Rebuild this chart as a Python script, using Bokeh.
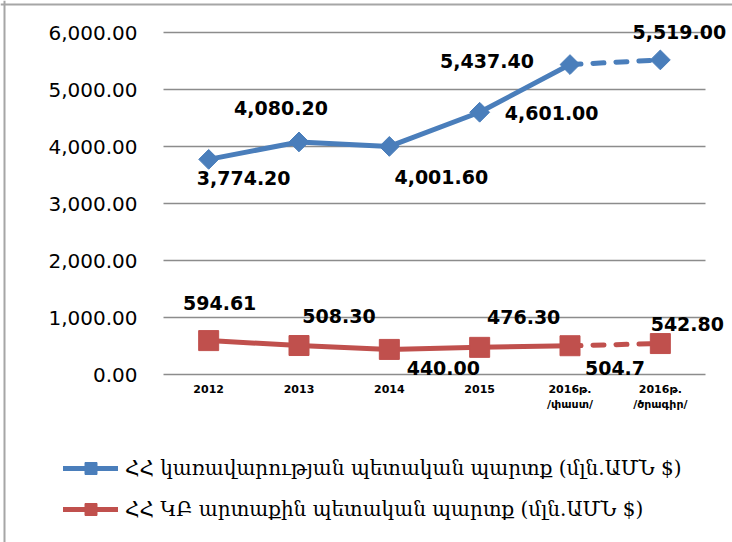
import math
from bokeh.plotting import figure
from bokeh.models import (Range1d, NumeralTickFormatter, Legend, LegendItem,
                          ColumnDataSource, FixedTicker, Span)
from bokeh.core.properties import value
from bokeh.embed import file_html
from bokeh.resources import INLINE

# ---------------- data ----------------
categories = ["2012", "2013", "2014", "2015", "2016թ.\n/փաստ/", "2016թ.\n/ծրագիր/"]
gov_debt = [3774.20, 4080.20, 4001.60, 4601.00, 5437.40, 5519.00]
cb_debt = [594.61, 508.30, 440.00, 476.30, 504.7, 542.80]
gov_labels = ["3,774.20", "4,080.20", "4,001.60", "4,601.00", "5,437.40", "5,519.00"]
cb_labels = ["594.61", "508.30", "440.00", "476.30", "504.7", "542.80"]
y_ticks = [0, 1000, 2000, 3000, 4000, 5000, 6000]
gov_name = "ՀՀ կառավարության պետական պարտք (մլն.ԱՄՆ $)"
cb_name = "ՀՀ ԿԲ արտաքին պետական պարտք (մլն.ԱՄՆ $)"

# ---------------- styles ----------------
BLUE = "#4a7ebb"
RED = "#c0504d"
GRID = "#8c8c8c"
BORDER = "#a6a6a6"
DASH = "11 12"
gov_dx = [35, -18, 52, 72, -83, 19]
gov_dy = [19, -34, 31, 1, -4, -28]
cb_dx = [11, 40, 54, 44, 45, 27]
cb_dy = [-38, -30, 19, -30, 22, -20]

# ---------------- geometry (px) ----------------
W, H = 732, 542                 # whole canvas = plot frame
area_left, area_top = 163, 32   # where the category area / top gridline sit
plot_w, plot_h = 542, 342       # size of the gridded area
border_inset = 4

n = len(categories)
idx = list(range(n))
y_max = y_ticks[-1]
cat_px = plot_w / n
ppu = plot_h / y_max
x0 = -0.5 - area_left / cat_px
y_top = y_max + area_top / ppu
y_bot = y_top - H / ppu

p = figure(x_range=Range1d(x0, x0 + W / cat_px),
           y_range=Range1d(y_bot, y_top),
           frame_width=W, frame_height=H, min_border=0,
           output_backend="svg", toolbar_location=None)
p.outline_line_color = None
p.background_fill_color = "white"
p.border_fill_color = "white"
p.xgrid.grid_line_color = None
p.ygrid.grid_line_color = None

# chart-area border (left and top edges visible in the reference)
p.add_layout(Span(location=border_inset, location_units="screen", dimension="height",
                  line_color=BORDER, line_width=2))
p.add_layout(Span(location=H - border_inset, location_units="screen", dimension="width",
                  line_color=BORDER, line_width=2))

# horizontal gridlines limited to the category area
p.segment(x0=[-0.5] * len(y_ticks), x1=[n - 0.5] * len(y_ticks), y0=y_ticks, y1=y_ticks,
          line_color=GRID, line_width=1.5)

# axes (labels drawn inward so the frame can cover the whole canvas)
p.yaxis.ticker = FixedTicker(ticks=y_ticks)
p.yaxis.formatter = NumeralTickFormatter(format="0,0.00")
p.yaxis.axis_line_color = None
p.yaxis.major_tick_line_color = None
p.yaxis.minor_tick_line_color = None
p.yaxis.major_tick_out = 0
p.yaxis.major_label_standoff = -137
p.yaxis.major_label_text_font = "DejaVu Sans"
p.yaxis.major_label_text_font_size = "20px"
p.yaxis.major_label_text_color = "black"

p.xaxis.ticker = FixedTicker(ticks=idx)
p.xaxis.major_label_overrides = {i: c for i, c in zip(idx, categories)}
p.xaxis.axis_line_color = None
p.xaxis.major_tick_line_color = None
p.xaxis.minor_tick_line_color = None
p.xaxis.major_tick_out = 0
p.xaxis.major_label_standoff = -(H - (area_top + plot_h) - 8)
p.xaxis.major_label_text_font = "DejaVu Sans"
p.xaxis.major_label_text_font_style = "bold"
p.xaxis.major_label_text_font_size = "11px"
p.xaxis.major_label_text_color = "black"

# series
solid_n = 5
g_l = p.line(idx[:solid_n], gov_debt[:solid_n], line_color=BLUE, line_width=5,
             line_cap="round", line_join="round")
p.line(idx[solid_n - 1:], gov_debt[solid_n - 1:], line_color=BLUE, line_width=5,
       line_dash=DASH, line_cap="round")
g_m = p.scatter(idx, gov_debt, marker="square", angle=math.pi / 4, size=14,
                fill_color=BLUE, line_color=BLUE)

c_l = p.line(idx[:solid_n], cb_debt[:solid_n], line_color=RED, line_width=5,
             line_cap="round", line_join="round")
p.line(idx[solid_n - 1:], cb_debt[solid_n - 1:], line_color=RED, line_width=5,
       line_dash=DASH, line_cap="round")
c_m = p.scatter(idx, cb_debt, marker="square", size=20, fill_color=RED, line_color=RED)

# data labels
for vals, labs, dx, dy in ((gov_debt, gov_labels, gov_dx, gov_dy),
                           (cb_debt, cb_labels, cb_dx, cb_dy)):
    src = ColumnDataSource(dict(x=idx, y=vals, t=labs, dx=dx, dy=dy))
    p.text(x="x", y="y", text="t", x_offset="dx", y_offset="dy", source=src,
           text_align="center", text_baseline="middle",
           text_font=value("DejaVu Sans"), text_font_style="bold",
           text_font_size="19px", text_color="black")

# legend
legend = Legend(items=[LegendItem(label=gov_name, renderers=[g_l, g_m]),
                       LegendItem(label=cb_name, renderers=[c_l, c_m])],
                location=(63, 18), orientation="vertical",
                glyph_width=55, glyph_height=30, label_height=30, spacing=11,
                padding=0, margin=0, label_standoff=7,
                border_line_color=None, background_fill_alpha=0,
                label_text_font="DejaVu Serif", label_text_font_size="20px",
                label_text_color="black")
p.add_layout(legend, "center")

open("out.html", "w").write(file_html(p, INLINE))
